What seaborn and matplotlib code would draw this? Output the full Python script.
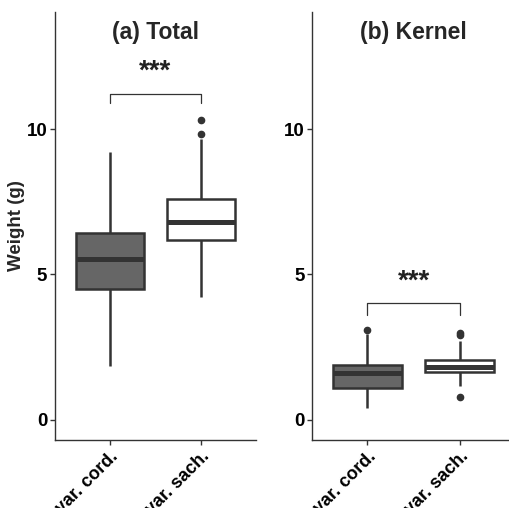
import matplotlib
matplotlib.use("Agg")
import matplotlib.pyplot as plt
import pandas as pd
import seaborn as sns

# values (quartiles, whisker ends, outliers)
varieties = ["var. cord.", "var. sach."]
total_cord = [1.84, 4.5, 5.52, 6.41, 9.2]
total_sach = [4.22, 6.2, 6.2, 6.2, 6.8, 6.8, 6.8, 7.61, 7.61, 7.61, 9.65, 9.83, 10.32]
kernel_cord = [0.4, 1.1, 1.1, 1.61, 1.61, 1.61, 1.88, 2.95, 3.1]
kernel_sach = [0.78, 1.17, 1.63, 1.63, 1.82, 1.82, 1.82, 2.07, 2.07, 2.07, 2.7, 2.93, 3.0]

panel_titles = ["(a) Total", "(b) Kernel"]
bracket_y = [11.23, 4.0]
bracket_drop = [10.9, 3.61]
star_y = [11.98, 4.76]
y_ticks = [0, 5, 10]

fills = ["#666666", "#ffffff"]
dark = "#333333"


def make_frame(cord, sach):
    return pd.DataFrame({
        "variety": [varieties[0]] * len(cord) + [varieties[1]] * len(sach),
        "weight": cord + sach,
    })


def main() -> None:
    sns.set_theme(style="ticks")
    plt.rcParams["font.family"] = ["Liberation Sans", "DejaVu Sans"]

    fig = plt.figure(figsize=(5.09, 5.08), dpi=100)
    ax_a = fig.add_axes([0.108, 0.134, 0.395, 0.843])
    ax_b = fig.add_axes([0.613, 0.134, 0.399, 0.843])

    frames = [make_frame(total_cord, total_sach), make_frame(kernel_cord, kernel_sach)]
    for i, (ax, df) in enumerate(zip([ax_a, ax_b], frames)):
        sns.boxplot(
            data=df, x="variety", y="weight", hue="variety",
            palette=fills, width=0.75, linewidth=1.8, linecolor=dark,
            showcaps=False, legend=False, ax=ax,
            medianprops=dict(color=dark, linewidth=3.6),
            flierprops=dict(marker="o", markersize=4.5, markerfacecolor=dark,
                            markeredgecolor=dark),
        )
        ax.set_xlim(-0.6, 1.6)
        ax.set_ylim(-0.7, 14.05)
        ax.set_yticks(y_ticks)
        ax.set_xlabel("")
        ax.set_ylabel("")
        for side in ["top", "right"]:
            ax.spines[side].set_visible(False)
        for side in ["left", "bottom"]:
            ax.spines[side].set_color(dark)
            ax.spines[side].set_linewidth(1.0)
        ax.tick_params(axis="both", length=3.5, width=1.0, color=dark,
                       labelsize=13.5, labelcolor="black", pad=2)
        for lab in ax.get_yticklabels():
            lab.set_fontweight("bold")
        ax.set_xticks([0, 1])
        ax.set_xticklabels(varieties, rotation=45, ha="right", fontsize=13,
                           rotation_mode="anchor", fontweight="bold")

        ax.text(0.5, 0.951, panel_titles[i], transform=ax.transAxes,
                ha="center", va="center", fontsize=16.5, fontweight="bold")

        # significance bracket
        ax.plot([0, 0, 1, 1], [bracket_drop[i], bracket_y[i], bracket_y[i], bracket_drop[i]],
                color=dark, linewidth=0.9)
        ax.text(0.5, star_y[i], "***", ha="center", va="center", fontsize=20,
                fontweight="bold", color="#222222")

    ax_a.set_ylabel("Weight (g)", fontsize=13.5, fontweight="bold", labelpad=1)

    fig.savefig("out.png", dpi=100)
    plt.close(fig)


if __name__ == "__main__":
    main()
